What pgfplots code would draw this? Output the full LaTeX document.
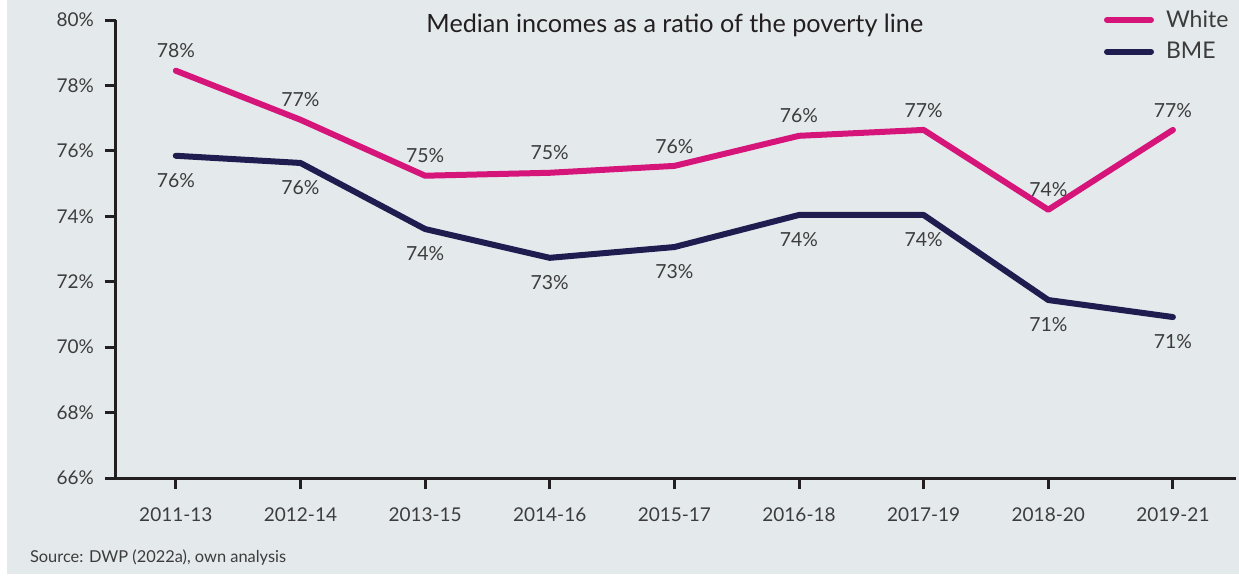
\documentclass[border=0pt]{standalone}
\usepackage{pgfplots}
\pgfplotsset{compat=1.18}
\usepackage{pgfplotstable}
\usepackage{fontspec}
\setmainfont{Lato}
\definecolor{bg}{HTML}{E4E9EC}
\definecolor{pinkc}{HTML}{D6157A}
\definecolor{navyc}{HTML}{1F1C4F}
\definecolor{txt}{HTML}{3C3C3C}
\definecolor{axc}{HTML}{231F20}
\pgfplotstableread{
x y lab
0 78.45 78\%
1 76.95 77\%
2 75.24 75\%
3 75.33 75\%
4 75.54 76\%
5 76.46 76\%
6 76.64 77\%
7 74.20 74\%
8 76.64 77\%
}\white
\pgfplotstableread{
x y lab
0 75.85 76\%
1 75.63 76\%
2 73.61 74\%
3 72.73 73\%
4 73.06 73\%
5 74.04 74\%
6 74.04 74\%
7 71.44 71\%
8 70.92 71\%
}\bme
\begin{document}
\begin{tikzpicture}
\useasboundingbox (0,0) rectangle (619.5pt,287.5pt);
\fill[white] (0,0) rectangle (619.5pt,287.5pt);
\fill[bg] (3.5pt,0.5pt) rectangle (619.5pt,287.5pt);
\begin{axis}[
  at={(58pt,48.5pt)}, anchor=south west,
  scale only axis, width=560pt, height=229pt,
  xmin=-0.48, xmax=8.506, ymin=66, ymax=80,
  axis x line*=bottom, axis y line*=left,
  axis line style={-, line width=1.5pt, color=axc},
  xtick={0,...,8},
  xticklabels={2011-13,2012-14,2013-15,2014-16,2015-17,2016-18,2017-19,2018-20,2019-21},
  ytick={66,68,...,80},
  yticklabel={\pgfmathprintnumber{\tick}\%},
  /pgf/number format/assume math mode=true,
  tick align=outside, major tick length=5.5pt,
  tick style={line width=1.5pt, color=axc},
  ticklabel style={font=\fontsize{9.5}{11}\selectfont, text=txt},
  yticklabel style={xshift=-2pt},
  xticklabel style={yshift=-6pt},
  clip=false,
  legend style={at={(1.0025,1.04)}, anchor=north east, draw=none, fill=none,
    font=\fontsize{11.5}{13}\selectfont, text=txt, row sep=2pt,
    /tikz/every odd column/.append style={column sep=4pt}},
  legend cell align=left,
  legend image code/.code={\draw[#1, line cap=round] (0pt,0pt) -- (22pt,0pt);},
  nodes near coords, point meta=explicit symbolic,
  every node near coord/.append style={font=\fontsize{9.7}{11}\selectfont, text=txt},
]
\addplot[pinkc, line width=3pt, line cap=round, line join=round,
  nodes near coords style={anchor=south, yshift=1.5pt}] table[x=x, y=y, meta=lab] {\white};
\addlegendentry{White}
\addplot[navyc, line width=3pt, line cap=round, line join=round,
  nodes near coords style={anchor=north, yshift=-4pt}] table[x=x, y=y, meta=lab] {\bme};
\addlegendentry{BME}
\node[anchor=center, font=\fontsize{12.6}{14}\selectfont, text=axc] at (rel axis cs:0.499,0.989) {Median incomes as a ratio of the poverty line};
\end{axis}
\node[anchor=west, font=\fontsize{8.2}{10}\selectfont, text=txt] at (11.5pt,8.5pt) {Source: DWP (2022a), own analysis};
\end{tikzpicture}
\end{document}
